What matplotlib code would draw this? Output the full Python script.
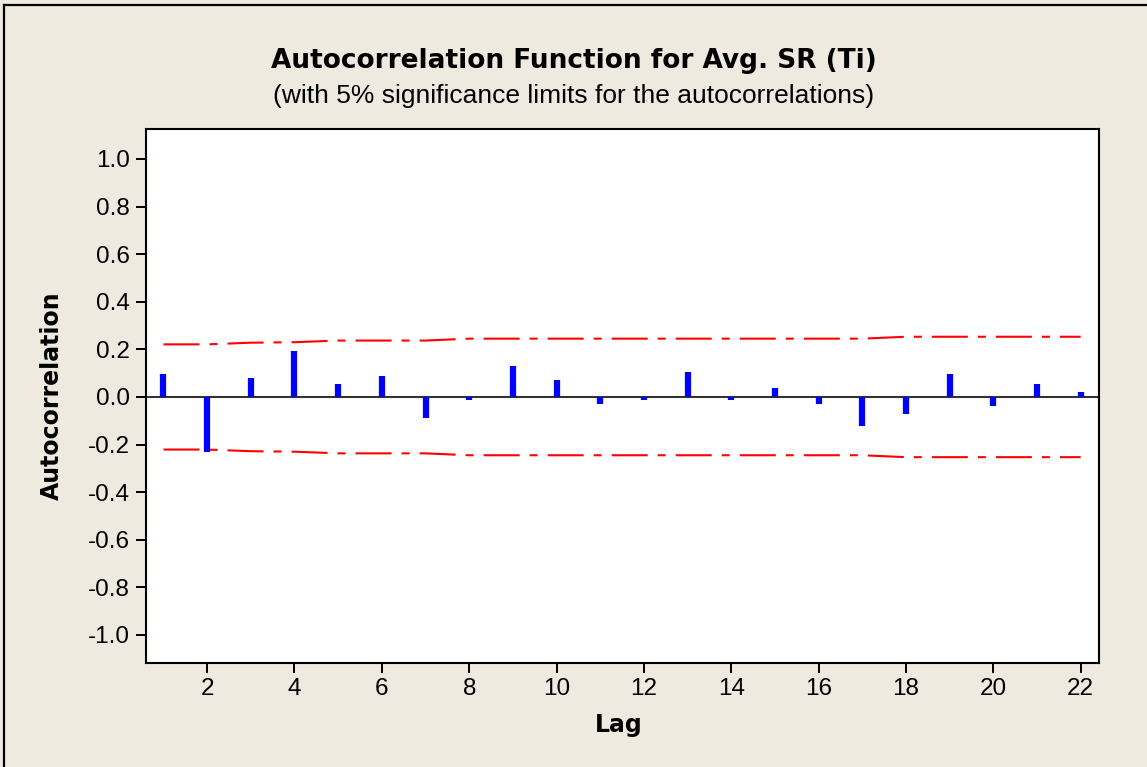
"""
Autocorrelation function plot for Avg. SR (Ti), Minitab style.
"""
import matplotlib
matplotlib.use("Agg")
import matplotlib.pyplot as plt
from matplotlib.lines import Line2D
import numpy as np

plt.rcParams["axes.unicode_minus"] = False

# values
lags = list(range(1, 23))
acf = [0.095, -0.230, 0.079, 0.195, 0.055, 0.088, -0.087, -0.013,
       0.130, 0.071, -0.029, -0.013, 0.105, -0.013, 0.038, -0.029,
       -0.122, -0.071, 0.097, -0.038, 0.055, 0.021]
upper = [0.221, 0.221, 0.228, 0.230, 0.237, 0.237, 0.237, 0.245,
         0.245, 0.245, 0.245, 0.245, 0.245, 0.245, 0.245, 0.245,
         0.245, 0.253, 0.253, 0.253, 0.253, 0.253]
lower = [-u for u in upper]
yticks = [-1.0, -0.8, -0.6, -0.4, -0.2, 0.0, 0.2, 0.4, 0.6, 0.8, 1.0]
xticks = list(range(2, 23, 2))

title = "Autocorrelation Function for Avg. SR (Ti)"
subtitle = "(with 5% significance limits for the autocorrelations)"

BG = "#EEEAE0"
W, H = 1147, 767

fig = plt.figure(figsize=(W / 100, H / 100), dpi=100, facecolor=BG)
ax = fig.add_axes([146 / W, 1 - 663 / H, 953 / W, 534 / H])
ax.set_facecolor("white")

ax.axhline(0, color="#333333", lw=1.5, zorder=1)
ax.vlines(lags, 0, acf, color="#0000FF", lw=4.5, zorder=3)

dash = (0, (17.3, 4.8, 3.84, 4.8))
ax.plot(lags, upper, color="#FF0000", lw=1.5, ls=dash, zorder=2)
ax.plot(lags, lower, color="#FF0000", lw=1.5, ls=dash, zorder=2)

ax.set_xlim(0.6, 22.42)
ax.set_ylim(-1.118, 1.126)
ax.set_xticks(xticks)
ax.set_yticks(yticks)
ax.set_yticklabels([f"{v:.1f}" for v in yticks])
ax.tick_params(axis="both", length=7.5, width=1.4, color="black",
               labelsize=17.5, direction="out")
ax.tick_params(axis="y", pad=4)
ax.tick_params(axis="x", pad=3.5)
for lbl in ax.get_xticklabels() + ax.get_yticklabels():
    lbl.set_fontfamily("Liberation Sans")
for s in ax.spines.values():
    s.set_linewidth(1.5)
    s.set_color("black")

fig.text(0.5, 1 - 68.3 / H, title, ha="center", va="baseline",
         fontsize=19, fontweight="bold", family="DejaVu Sans")
fig.text(0.5, 1 - 102.7 / H, subtitle, ha="center", va="baseline",
         fontsize=19, family="Liberation Sans")
fig.text(52 / W, 1 - 396 / H, "Autocorrelation", rotation=90,
         ha="center", va="center", fontsize=17, fontweight="bold",
         family="DejaVu Sans")
fig.text(619 / W, 1 - 725 / H, "Lag", ha="center", va="center",
         fontsize=17, fontweight="bold", family="DejaVu Sans")

# outer frame (only left and top edges visible in the crop)
fig.add_artist(Line2D([4 / W, 4 / W], [0, 1 - 5 / H], transform=fig.transFigure,
                      color="black", lw=1.6))
fig.add_artist(Line2D([4 / W, 1], [1 - 5 / H, 1 - 5 / H], transform=fig.transFigure,
                      color="black", lw=1.6))

fig.savefig("out.png", dpi=100, facecolor=BG)
